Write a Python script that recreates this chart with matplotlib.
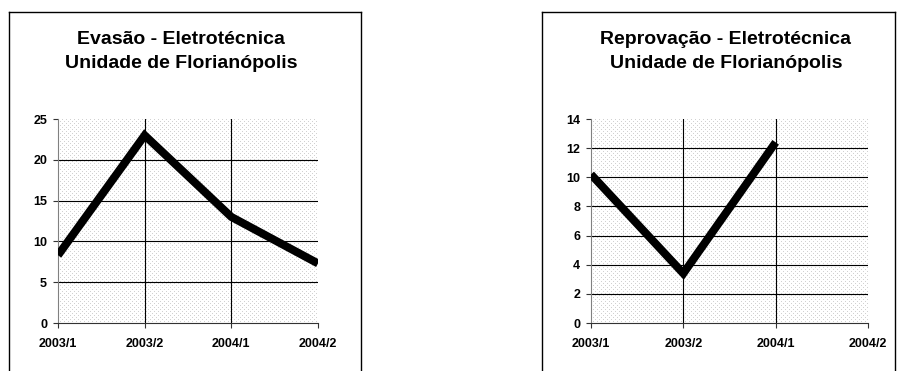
import matplotlib
matplotlib.use("Agg")
import matplotlib.pyplot as plt
import numpy as np
from matplotlib.lines import Line2D

plt.rcParams['font.family'] = ['Liberation Sans', 'DejaVu Sans']

categories = ["2003/1", "2003/2", "2004/1", "2004/2"]
evasao = [8.3, 23.0, 13.0, 7.3]
reprovacao = [10.2, 3.4, 12.4]
title_left = ["Evasão - Eletrotécnica", "Unidade de Florianópolis"]
title_right = ["Reprovação - Eletrotécnica", "Unidade de Florianópolis"]

W, H = 899, 371
fig = plt.figure(figsize=(W / 100, H / 100), dpi=100)

def px(x0, y0, x1, y1):
    return [x0 / W, 1 - y1 / H, (x1 - x0) / W, (y1 - y0) / H]

def border(x0, x1, y0):
    for xs, ys in [([x0, x0], [y0, H + 5]), ([x1, x1], [y0, H + 5]), ([x0, x1], [y0, y0])]:
        fig.add_artist(Line2D([x / W for x in xs], [1 - y / H for y in ys],
                              color='black', lw=1.0, transform=fig.transFigure))

def make_pattern(wpx, hpx):
    arr = np.ones((hpx, wpx, 3))
    yy, xx = np.mgrid[0:hpx, 0:wpx]
    mask = ((xx % 4 == 0) & (yy % 4 == 0)) | ((xx % 4 == 2) & (yy % 4 == 2))
    arr[mask] = 0.82
    return arr

def chart(rect_px, values, ymax, ystep, title, title_x, border_x):
    x0, y0, x1, y1 = rect_px
    border(border_x[0], border_x[1], 12)
    ax = fig.add_axes(px(x0, y0, x1, y1))
    n = len(categories)
    xpos = np.arange(n)
    ax.set_xlim(0, n - 1)
    ax.set_ylim(0, ymax)
    ax.imshow(make_pattern(int(x1 - x0), int(y1 - y0)), extent=(0, n - 1, 0, ymax),
              aspect='auto', interpolation='nearest', zorder=0)
    for y in np.arange(ystep, ymax, ystep):
        ax.axhline(y, color='black', lw=0.8, zorder=1)
    for x in xpos[1:-1]:
        ax.axvline(x, color='black', lw=0.8, zorder=1)
    ax.plot(xpos[:len(values)], values, color='black', lw=5.8, zorder=3,
            solid_joinstyle='miter', solid_capstyle='butt', clip_on=True)
    for s in ['top', 'right']:
        ax.spines[s].set_visible(False)
    ax.spines['left'].set_color('#808080')
    ax.spines['bottom'].set_color('#333333')
    ax.spines['left'].set_linewidth(0.8)
    ax.spines['bottom'].set_linewidth(0.8)
    yt = np.arange(0, ymax + 0.01, ystep)
    ax.set_yticks(yt)
    ax.set_yticklabels([f"{int(v)}" for v in yt])
    ax.set_xticks(xpos)
    ax.set_xticklabels(categories)
    ax.tick_params(axis='y', direction='out', length=3.6, width=0.8, pad=4.3,
                   labelsize=9, color='#333333')
    ax.tick_params(axis='x', direction='out', length=3.6, width=0.8, pad=7,
                   labelsize=9, color='#333333')
    for lab in ax.get_xticklabels() + ax.get_yticklabels():
        lab.set_fontweight('bold')
    for line, base in zip(title, [44, 68]):
        fig.text(title_x / W, 1 - base / H, line, ha='center', va='baseline',
                 fontsize=14, fontweight='bold')
    return ax

chart((58, 119, 318, 323), evasao, 25, 5, title_left, 181, (9, 361))
chart((591, 119, 868, 323), reprovacao, 14, 2, title_right, 726, (542, 895))

fig.savefig("out.png", dpi=100)
